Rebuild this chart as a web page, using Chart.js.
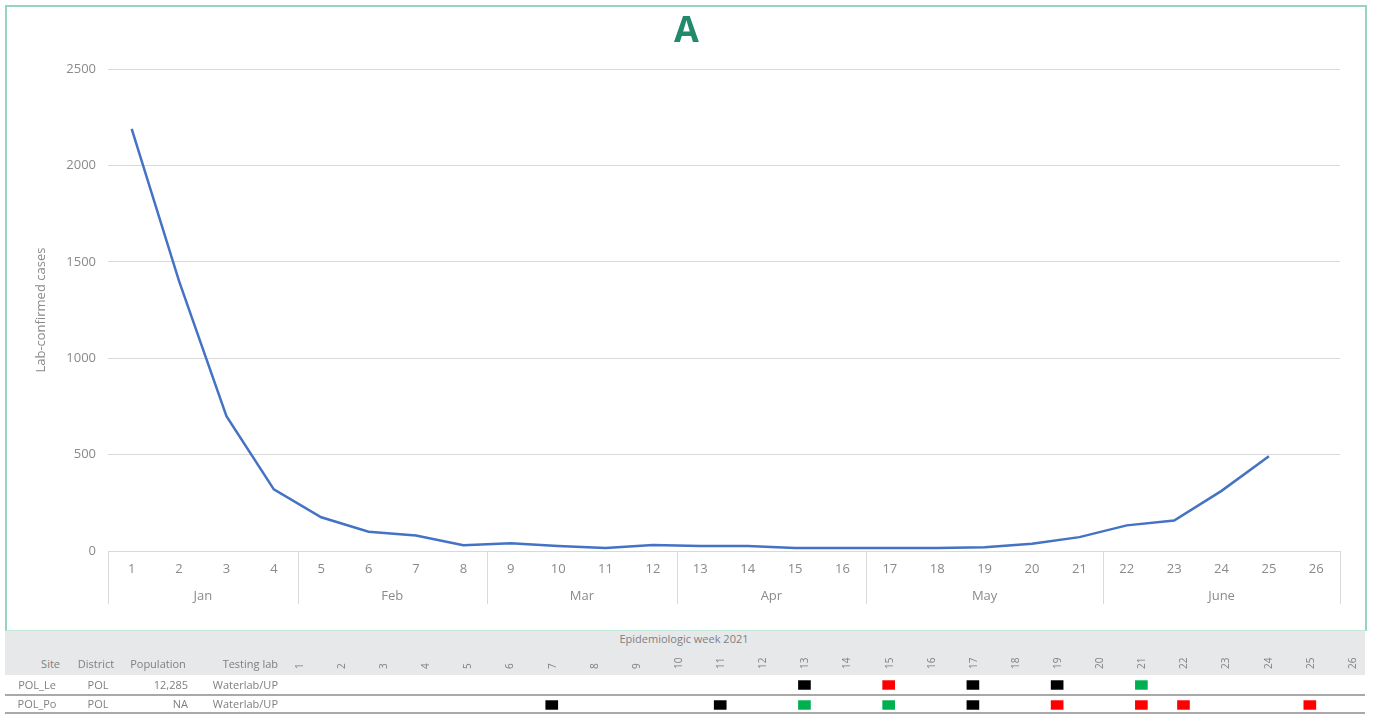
<!DOCTYPE html>
<html>
<head>
<meta charset="utf-8">
<script src="https://cdn.jsdelivr.net/npm/chart.js@4.4.1/dist/chart.umd.min.js"></script>
<style>
  body { margin: 0; background: #fff; font-family: "Open Sans", sans-serif; }
  #page { position: relative; width: 1373px; height: 715px; overflow: hidden; }
  #casesChart { position: absolute; left: 0; top: 0; }
  #frame { position: absolute; left: 5px; top: 5px; width: 1358px; height: 623px;
           border: 2px solid #93d6bd; border-bottom: 1px solid #c3e9d8; pointer-events: none; }
  #tableBg { position: absolute; left: 5px; top: 631px; width: 1360px; height: 44px; background: #e7e8ea; }
  .rowline { position: absolute; left: 5px; width: 1360px; height: 2px; background: #a9a9a9; }
  .txt { position: absolute; font-size: 11px; color: #7f7f7f; white-space: nowrap; line-height: 14px; }
  #sampleChart { position: absolute; left: 0; top: 631px; }
</style>
</head>
<body>
<div id="page">
  <canvas id="casesChart" width="1373" height="631"></canvas>
  <div id="frame"></div>
  <div id="tableBg"></div>
  <div class="rowline" style="top:694px"></div>
  <div class="rowline" style="top:712px"></div>
  <div id="tableText"></div>
  <canvas id="sampleChart" width="1373" height="84"></canvas>
</div>
<script>
const weeks = ["1", "2", "3", "4", "5", "6", "7", "8", "9", "10", "11", "12", "13",
               "14", "15", "16", "17", "18", "19", "20", "21", "22", "23", "24", "25", "26"];
const cases = [2190, 1400, 700, 320, 175, 100, 80, 30, 40, 26, 15, 31, 26,
               26, 15, 15, 15, 15, 20, 38, 72, 133, 158, 312, 492, null];
const monthNames = ["Jan", "Feb", "Mar", "Apr", "May", "June"];
const monthWeeks = [4, 4, 4, 4, 5, 5];
const yTicks = [0, 500, 1000, 1500, 2000, 2500];

const sites = ["POL_Le", "POL_Po"];
const districts = ["POL", "POL"];
const populations = ["12,285", "NA"];
const labs = ["Waterlab/UP", "Waterlab/UP"];
// sample result weeks per site, by marker colour
const blackWeeks = [["13", "17", "19"], ["7", "11", "17"]];
const redWeeks = [["15"], ["19", "21", "22", "25"]];
const greenWeeks = [["21"], ["13", "15"]];

const grey = '#8a8a8a';
const font = '"Open Sans", sans-serif';

const monthLabels = {
    id: 'monthLabels',
    afterDraw(chart) {
        const x = chart.scales.x;
        const area = chart.chartArea;
        const c = chart.ctx;
        const half = (x.getPixelForValue(1) - x.getPixelForValue(0)) / 2;
        c.save();
        c.strokeStyle = '#d9d9d9';
        c.lineWidth = 1;
        c.fillStyle = grey;
        c.font = '13px ' + font;
        c.textAlign = 'center';
        c.textBaseline = 'middle';
        const edge = px => {
            c.beginPath();
            c.moveTo(Math.round(px) + 0.5, area.bottom);
            c.lineTo(Math.round(px) + 0.5, area.bottom + 53);
            c.stroke();
        };
        edge(x.getPixelForValue(0) - half);
        let start = 0;
        monthNames.forEach((m, i) => {
            const end = start + monthWeeks[i] - 1;
            const l = x.getPixelForValue(start) - half;
            const r = x.getPixelForValue(end) + half;
            c.fillText(m, (l + r) / 2, area.bottom + 45);
            edge(r);
            start = end + 1;
        });
        c.restore();
    }
};

new Chart(document.getElementById('casesChart'), {
    type: 'line',
    data: {
        labels: weeks,
        datasets: [{
            data: cases,
            borderColor: '#4472c4',
            borderWidth: 2.5,
            pointRadius: 0,
            tension: 0,
            fill: false
        }]
    },
    plugins: [monthLabels],
    options: {
        responsive: false,
        animation: false,
        devicePixelRatio: 1,
        layout: { padding: { left: 33, right: 33, top: 0, bottom: 27 } },
        plugins: {
            legend: { display: false },
            tooltip: { enabled: false },
            title: {
                display: true,
                text: 'A',
                color: '#22896b',
                font: { family: font, size: 36, weight: 'bold' },
                padding: { top: 10, bottom: 16 }
            }
        },
        scales: {
            x: {
                offset: true,
                grid: { display: false, drawTicks: false },
                border: { display: false },
                ticks: { color: grey, font: { family: font, size: 13 }, padding: 10, maxRotation: 0, autoSkip: false },
                afterFit(s) { s.height = 53; }
            },
            y: {
                min: 0,
                max: 2500,
                afterBuildTicks(s) { s.ticks = yTicks.map(v => ({ value: v })); },
                grid: { color: '#d9d9d9', drawTicks: false },
                border: { display: false },
                ticks: { color: grey, font: { family: font, size: 13 }, padding: 12, callback: v => String(v) },
                title: {
                    display: true,
                    text: 'Lab-confirmed cases',
                    color: grey,
                    font: { family: font, size: 13 },
                    padding: { top: 0, bottom: 0 }
                },
                afterFit(s) { s.width = 75; }
            }
        }
    }
});

// table text
const textBox = document.getElementById('tableText');
function addText(str, x, y, align) {
    const d = document.createElement('div');
    d.className = 'txt';
    d.textContent = str;
    d.style.top = (y - 7) + 'px';
    if (align === 'right') { d.style.right = (1373 - x) + 'px'; }
    else if (align === 'center') { d.style.left = (x - 100) + 'px'; d.style.width = '200px'; d.style.textAlign = 'center'; }
    else { d.style.left = x + 'px'; }
    textBox.appendChild(d);
}
addText('Epidemiologic week 2021', 684, 639, 'center');
addText('Site', 60, 664, 'right');
addText('District', 96, 664, 'center');
addText('Population', 158, 664, 'center');
addText('Testing lab', 278, 664, 'right');
const rowY = [685, 704];
sites.forEach((s, i) => {
    addText(s, 37, rowY[i], 'center');
    addText(districts[i], 98, rowY[i], 'center');
    addText(populations[i], 188, rowY[i], 'right');
    addText(labs[i], 278, rowY[i], 'right');
});

function markers(list) {
    const out = [];
    list.forEach((wk, row) => wk.forEach(w => out.push({ x: w, y: [row + 0.28, row + 0.72] })));
    return out;
}

new Chart(document.getElementById('sampleChart'), {
    type: 'bar',
    data: {
        labels: weeks,
        datasets: [
            { data: markers(blackWeeks), backgroundColor: '#000000' },
            { data: markers(redWeeks), backgroundColor: '#ff0000' },
            { data: markers(greenWeeks), backgroundColor: '#00b050' }
        ]
    },
    options: {
        responsive: false,
        animation: false,
        devicePixelRatio: 1,
        grouped: false,
        barThickness: 12,
        layout: { padding: { left: 278, right: 0, top: 0, bottom: 0 } },
        plugins: { legend: { display: false }, tooltip: { enabled: false } },
        scales: {
            x: {
                position: 'top',
                grid: { display: false, drawTicks: false },
                border: { display: false },
                ticks: { color: '#808080', font: { family: font, size: 10 }, padding: 6, labelOffset: 13,
                         minRotation: 90, maxRotation: 90, autoSkip: false },
                afterFit(s) { s.height = 44; }
            },
            y: { type: 'linear', min: 0, max: 2, reverse: true, display: false }
        }
    }
});
</script>
</body>
</html>
